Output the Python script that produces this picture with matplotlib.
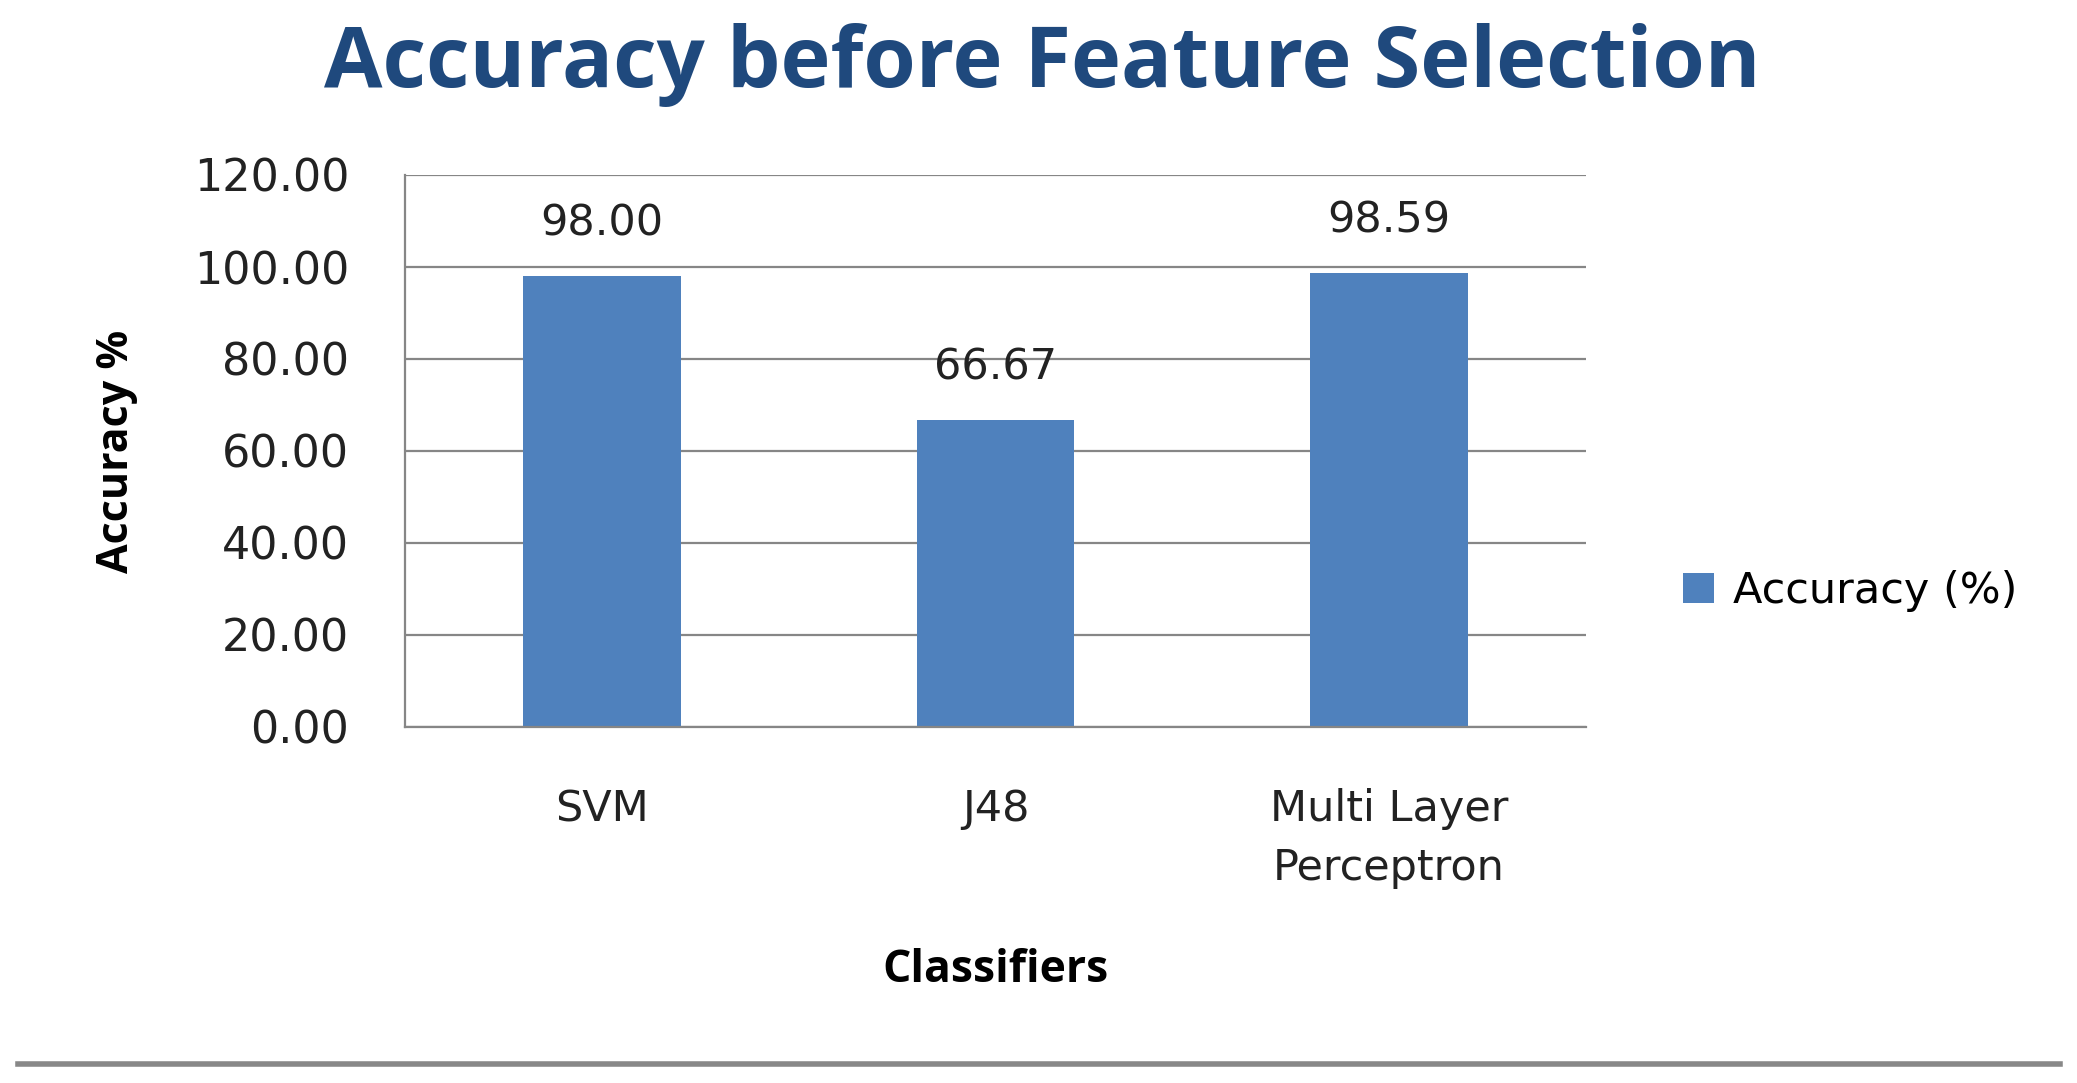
import matplotlib
matplotlib.use("Agg")
import matplotlib.pyplot as plt
from matplotlib.lines import Line2D

classifiers = ["SVM", "J48", "Multi Layer\nPerceptron"]
accuracy = [98.00, 66.67, 98.59]
y_ticks = [0, 20, 40, 60, 80, 100, 120]

fig = plt.figure(figsize=(20.77, 10.83), dpi=100)
ax = fig.add_axes([405 / 2077, 1 - 727 / 1083, (1586 - 405) / 2077, (727 - 175) / 1083])

bars = ax.bar(range(len(classifiers)), accuracy, width=0.4, color="#4F81BD",
              label="Accuracy (%)", zorder=3)
ax.set_xlim(-0.5, len(classifiers) - 0.5)
ax.set_ylim(0, 120)
ax.set_yticks(y_ticks)
ax.set_yticklabels(["%.2f" % v for v in y_ticks], fontsize=32, color="#222222")
ax.set_xticks(range(len(classifiers)))
ax.set_xticklabels(classifiers, fontsize=31, color="#222222", linespacing=1.5)
ax.tick_params(axis="both", length=0)
ax.tick_params(axis="y", pad=40)
ax.tick_params(axis="x", pad=44)
ax.yaxis.grid(True, color="#868686", linewidth=1.6, zorder=0)

for s in ["top", "right"]:
    ax.spines[s].set_visible(False)
for s in ["left", "bottom"]:
    ax.spines[s].set_color("#868686")
    ax.spines[s].set_linewidth(1.6)
ax.spines["bottom"].set_zorder(4)

for x, v in enumerate(accuracy):
    ax.annotate("%.2f" % v, (x, v), xytext=(0, 38), textcoords="offset points",
                ha="center", va="center", fontsize=31, color="#222222")

ax.set_ylabel("Accuracy %", fontsize=31, fontweight="bold", family="Open Sans")
ax.yaxis.set_label_coords(-0.244, 0.5)
ax.set_xlabel("Classifiers", fontsize=32, fontweight="bold", family="Open Sans")
ax.xaxis.set_label_coords(0.5, -0.442)
ax.xaxis.label.set_va("center")
ax.yaxis.label.set_va("center")

fig.text(1042 / 2077, 1 - 65 / 1083, "Accuracy before Feature Selection", ha="center", va="center",
         fontsize=61, fontweight="bold", family="Open Sans", color="#1F497D")

fig.legend(handles=[bars], loc="center left", bbox_to_anchor=(1644 / 2077, 1 - 591 / 1083),
           frameon=False, fontsize=31, handlelength=0.72, handleheight=0.72, handletextpad=0.45)

fig.add_artist(Line2D([18 / 2077, 2060 / 2077], [1 - 1064 / 1083] * 2, color="#888888", linewidth=4))

fig.savefig("out.png", dpi=100)
